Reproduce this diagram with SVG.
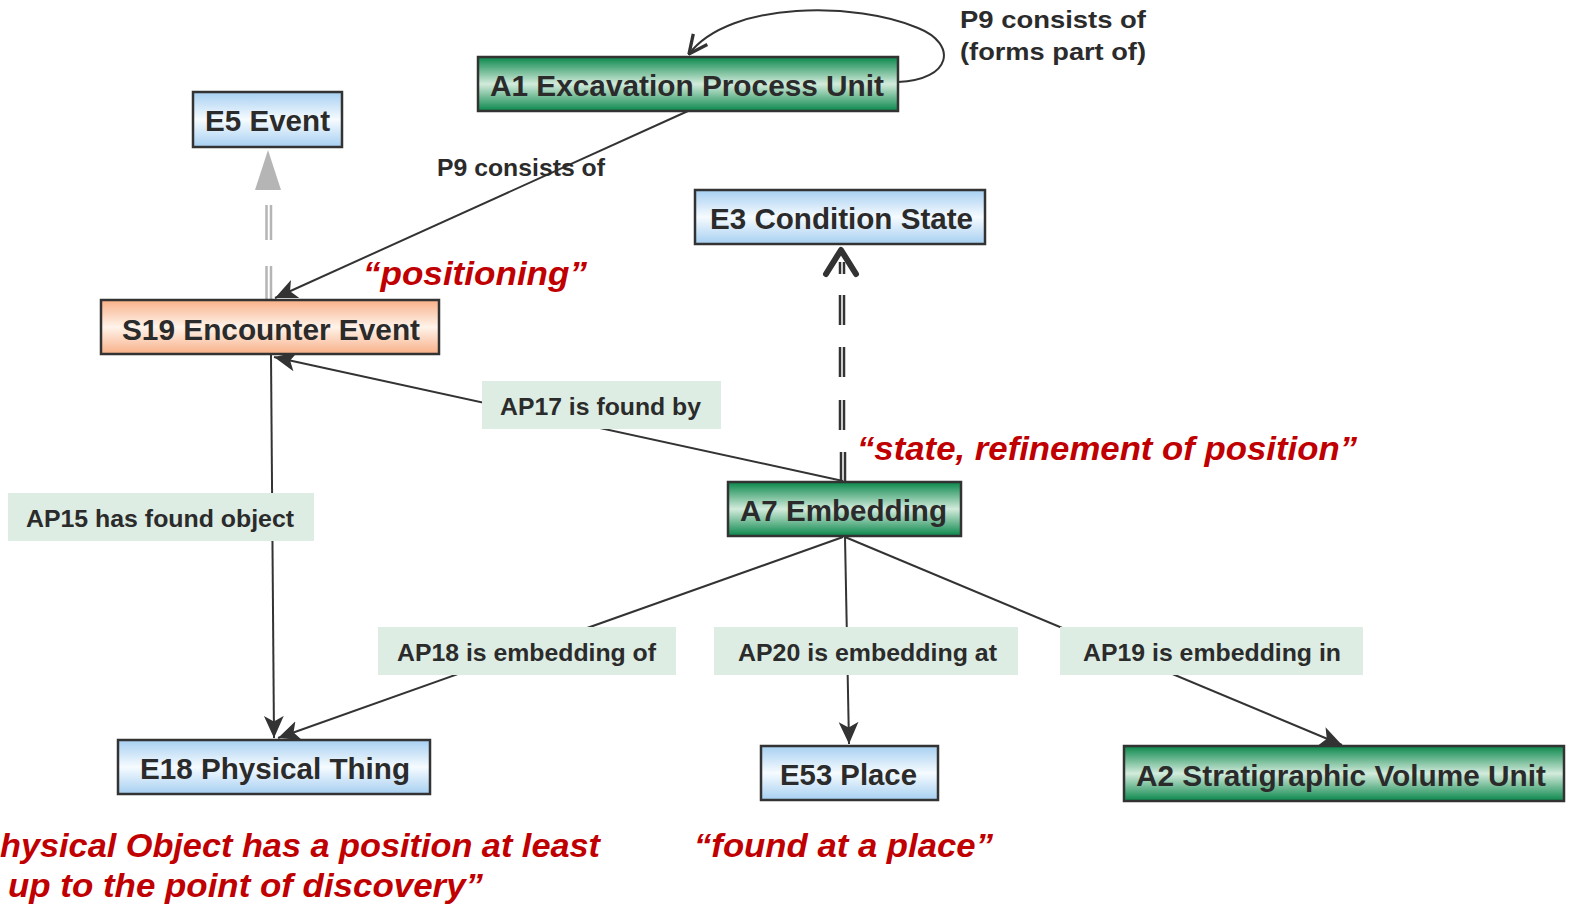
<svg xmlns="http://www.w3.org/2000/svg" width="1569" height="905" viewBox="0 0 1569 905">
  <defs>
    <linearGradient id="gBlue" x1="0" y1="0" x2="0" y2="1">
      <stop offset="0" stop-color="#a6cff1"/>
      <stop offset="0.5" stop-color="#f6fbff"/>
      <stop offset="1" stop-color="#a6cff1"/>
    </linearGradient>
    <linearGradient id="gGreen" x1="0" y1="0" x2="0" y2="1">
      <stop offset="0" stop-color="#0a874b"/>
      <stop offset="0.5" stop-color="#d3ebdc"/>
      <stop offset="1" stop-color="#0a874b"/>
    </linearGradient>
    <linearGradient id="gOrange" x1="0" y1="0" x2="0" y2="1">
      <stop offset="0" stop-color="#f8b088"/>
      <stop offset="0.5" stop-color="#fff3ea"/>
      <stop offset="1" stop-color="#f8b088"/>
    </linearGradient>
    <marker id="arrow" viewBox="0 0 20 20" refX="20" refY="10" markerWidth="22" markerHeight="22" markerUnits="userSpaceOnUse" orient="auto">
      <path d="M0,1 L20,10 L0,19 L5,10 z" fill="#333"/>
    </marker>
    <marker id="vee" viewBox="0 0 20 20" refX="19" refY="10" markerWidth="22" markerHeight="22" markerUnits="userSpaceOnUse" orient="auto">
      <path d="M2,2 L19,10 L2,18" fill="none" stroke="#333" stroke-width="3"/>
    </marker>
  </defs>
  <style>
    .box { stroke: #333; stroke-width: 2.5; }
    .blue { fill: url(#gBlue); }
    .green { fill: url(#gGreen); }
    .orange { fill: url(#gOrange); }
    .ntext { font-family: "Liberation Sans", Arial, sans-serif; font-weight: bold; font-size: 30px; fill: #2b2b2b; }
    .edge { stroke: #333; stroke-width: 2; fill: none; }
    .lbox { fill: #ddede3; }
    .ltext { font-family: "Liberation Sans", Arial, sans-serif; font-weight: bold; font-size: 24px; fill: #2b2b2b; }
    .note { font-family: "Liberation Sans", Arial, sans-serif; font-weight: bold; font-style: italic; font-size: 33px; fill: #c00000; }
    .gdash { stroke: #b5b5b5; stroke-width: 2.5; }
    .ddash { stroke: #333; stroke-width: 2.5; }
  </style>

  <rect width="1569" height="905" fill="#ffffff"/>

  <!-- connectors -->
  <g id="connectors">
    <!-- A1 self loop -->
    <path class="edge" d="M898,82 C952,80 958,44 918,28 C858,2 730,0 689,54" marker-end="url(#vee)"/>
    <!-- A1 to S19 -->
    <line class="edge" x1="688" y1="111" x2="275" y2="298" marker-end="url(#arrow)"/>
    <!-- S19 to E5 (dashed double, grey) -->
    <g class="gdash">
      <line x1="266.5" y1="205" x2="266.5" y2="240"/>
      <line x1="271" y1="205" x2="271" y2="240"/>
      <line x1="266.5" y1="266" x2="266.5" y2="300"/>
      <line x1="271" y1="266" x2="271" y2="300"/>
    </g>
    <polygon points="268,150 255,190 281,190" fill="#b5b5b5"/>
    <!-- A7 to E3 (dashed double, dark) -->
    <g class="ddash">
      <line x1="840" y1="262" x2="840" y2="274"/>
      <line x1="844" y1="262" x2="844" y2="274"/>
      <line x1="840" y1="295" x2="840" y2="325"/>
      <line x1="844" y1="295" x2="844" y2="325"/>
      <line x1="840" y1="347" x2="840" y2="377"/>
      <line x1="844" y1="347" x2="844" y2="377"/>
      <line x1="840" y1="400" x2="840" y2="430"/>
      <line x1="844" y1="400" x2="844" y2="430"/>
      <line x1="841" y1="452" x2="841" y2="481"/>
      <line x1="845" y1="452" x2="845" y2="481"/>
    </g>
    <polyline points="826,274 841,250 856,274" fill="none" stroke="#333" stroke-width="6" stroke-linecap="round" stroke-linejoin="round"/>
    <!-- A7 to S19 -->
    <line class="edge" x1="843" y1="481" x2="274" y2="357" marker-end="url(#arrow)"/>
    <!-- S19 to E18 -->
    <line class="edge" x1="271" y1="355" x2="274" y2="738" marker-end="url(#arrow)"/>
    <!-- A7 to E18 -->
    <line class="edge" x1="843" y1="537" x2="278" y2="738" marker-end="url(#arrow)"/>
    <!-- A7 to E53 -->
    <line class="edge" x1="845" y1="537" x2="849" y2="744" marker-end="url(#arrow)"/>
    <!-- A7 to A2 -->
    <line class="edge" x1="845" y1="537" x2="1342" y2="745" marker-end="url(#arrow)"/>
  </g>

  <!-- connector labels -->
  <g id="edge-labels">
    <text class="ltext" x="960" y="28" textLength="186" lengthAdjust="spacingAndGlyphs">P9 consists of</text>
    <text class="ltext" x="960" y="60" textLength="186" lengthAdjust="spacingAndGlyphs">(forms part of)</text>
    <text class="ltext" x="437" y="176" font-size="22" textLength="168" lengthAdjust="spacingAndGlyphs">P9 consists of</text>
    <g id="lbl-ap17">
      <rect class="lbox" x="482" y="381" width="239" height="48"/>
      <text class="ltext" x="500" y="415" textLength="201" lengthAdjust="spacingAndGlyphs">AP17 is found by</text>
    </g>
    <g id="lbl-ap15">
      <rect class="lbox" x="8" y="493" width="306" height="48"/>
      <text class="ltext" x="26" y="527" textLength="268" lengthAdjust="spacingAndGlyphs">AP15 has found object</text>
    </g>
    <g id="lbl-ap18">
      <rect class="lbox" x="378" y="627" width="298" height="48"/>
      <text class="ltext" x="397" y="661" textLength="259" lengthAdjust="spacingAndGlyphs">AP18 is embedding of</text>
    </g>
    <g id="lbl-ap20">
      <rect class="lbox" x="714" y="627" width="304" height="48"/>
      <text class="ltext" x="738" y="661" textLength="259" lengthAdjust="spacingAndGlyphs">AP20 is embedding at</text>
    </g>
    <g id="lbl-ap19">
      <rect class="lbox" x="1060" y="627" width="303" height="48"/>
      <text class="ltext" x="1083" y="661" textLength="258" lengthAdjust="spacingAndGlyphs">AP19 is embedding in</text>
    </g>
  </g>

  <!-- nodes -->
  <g id="node-a1">
    <rect class="box green" x="478" y="57" width="420" height="54"/>
    <text class="ntext" x="490" y="96" textLength="394" lengthAdjust="spacingAndGlyphs">A1 Excavation Process Unit</text>
  </g>
  <g id="node-e5">
    <rect class="box blue" x="193" y="92" width="149" height="55"/>
    <text class="ntext" x="205" y="131" textLength="125" lengthAdjust="spacingAndGlyphs">E5 Event</text>
  </g>
  <g id="node-s19">
    <rect class="box orange" x="101" y="300" width="338" height="54"/>
    <text class="ntext" x="122" y="340" textLength="298" lengthAdjust="spacingAndGlyphs">S19 Encounter Event</text>
  </g>
  <g id="node-e3">
    <rect class="box blue" x="695" y="190" width="290" height="54"/>
    <text class="ntext" x="710" y="229" textLength="263" lengthAdjust="spacingAndGlyphs">E3 Condition State</text>
  </g>
  <g id="node-a7">
    <rect class="box green" x="728" y="482" width="233" height="54"/>
    <text class="ntext" x="740" y="521" textLength="207" lengthAdjust="spacingAndGlyphs">A7 Embedding</text>
  </g>
  <g id="node-e18">
    <rect class="box blue" x="118" y="740" width="312" height="54"/>
    <text class="ntext" x="140" y="779" textLength="270" lengthAdjust="spacingAndGlyphs">E18 Physical Thing</text>
  </g>
  <g id="node-e53">
    <rect class="box blue" x="761" y="746" width="177" height="54"/>
    <text class="ntext" x="780" y="785" textLength="137" lengthAdjust="spacingAndGlyphs">E53 Place</text>
  </g>
  <g id="node-a2">
    <rect class="box green" x="1124" y="746" width="440" height="55"/>
    <text class="ntext" x="1136" y="786" textLength="410" lengthAdjust="spacingAndGlyphs">A2 Stratigraphic Volume Unit</text>
  </g>

  <!-- annotations -->
  <g id="notes">
    <text class="note" x="363" y="285" textLength="224" lengthAdjust="spacingAndGlyphs">“positioning”</text>
    <text class="note" x="857" y="460" textLength="500" lengthAdjust="spacingAndGlyphs">“state, refinement of position”</text>
    <text class="note" x="694" y="857" textLength="299" lengthAdjust="spacingAndGlyphs">“found at a place”</text>
    <text class="note" x="0" y="857" textLength="600" lengthAdjust="spacingAndGlyphs">hysical Object has a position at least</text>
    <text class="note" x="8" y="897" textLength="475" lengthAdjust="spacingAndGlyphs">up to the point of discovery”</text>
  </g>
</svg>
